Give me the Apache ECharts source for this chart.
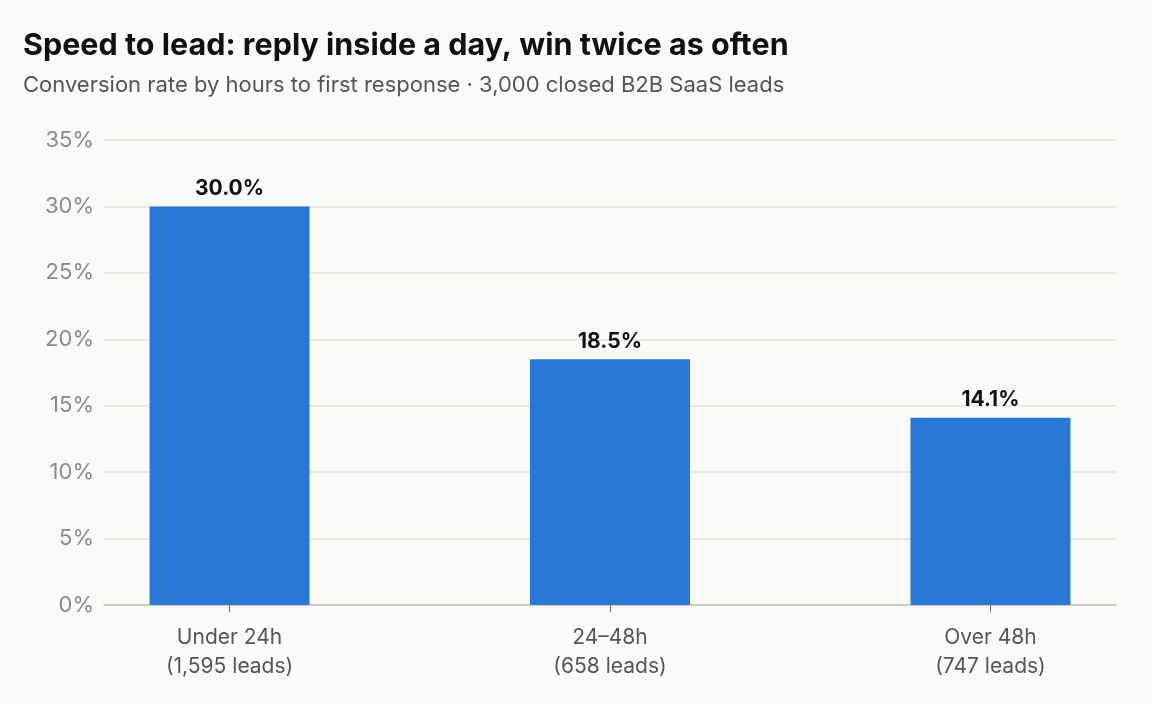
<!DOCTYPE html>
<html>
<head>
<meta charset="utf-8">
<script src="https://cdn.jsdelivr.net/npm/echarts@6/dist/echarts.min.js"></script>
<style>
  html, body { margin: 0; padding: 0; background: #fafaf9; }
  #chart { width: 1152px; height: 704px; }
</style>
</head>
<body>
<div id="chart"></div>
<script>
// data
const categories = ['Under 24h', '24–48h', 'Over 48h']
const leadCounts = ['1,595', '658', '747']
const conversionRates = [30.0, 18.5, 14.1]
const yTicks = [0, 5, 10, 15, 20, 25, 30, 35]

const FONT = 'Inter, "Liberation Sans", Arial, sans-serif'

const chart = echarts.init(document.getElementById('chart'), null, { renderer: 'canvas' })

const positions = categories.map((c, i) => i)

chart.setOption({
  backgroundColor: '#fafaf9',
  textStyle: { fontFamily: FONT },
  title: [
    {
      text: 'Speed to lead: reply inside a day, win twice as often',
      left: 18,
      top: 25,
      textStyle: { fontSize: 30.5, fontWeight: 'bold', color: '#111', fontFamily: FONT }
    },
    {
      text: 'Conversion rate by hours to first response · 3,000 closed B2B SaaS leads',
      left: 18,
      top: 69,
      textStyle: { fontSize: 22, fontWeight: 'normal', color: '#555', fontFamily: FONT }
    }
  ],
  grid: { left: 104, right: 36, top: 140, bottom: 99, containLabel: false },
  xAxis: {
    type: 'value',
    min: -0.33,
    max: 2.33,
    splitLine: { show: false },
    axisLine: { show: true, onZero: false, lineStyle: { color: '#c4c2b8', width: 1.5 } },
    axisTick: { show: true, customValues: positions, length: 7, lineStyle: { color: '#666' } },
    axisLabel: {
      customValues: positions,
      margin: 18,
      lineHeight: 29,
      fontSize: 21,
      color: '#555',
      fontFamily: FONT,
      formatter: v => {
        const i = Math.round(v)
        return categories[i] + '\n(' + leadCounts[i] + ' leads)'
      }
    }
  },
  yAxis: {
    type: 'value',
    min: 0,
    max: 35,
    interval: 5,
    axisLine: { show: false },
    axisTick: { show: false },
    axisLabel: {
      margin: 10,
      fontSize: 22,
      color: '#8a8a8a',
      fontFamily: FONT,
      verticalAlign: 'middle',
      padding: [4, 0, 0, 0],
      formatter: v => yTicks.includes(v) ? v + '%' : ''
    },
    splitLine: { lineStyle: { color: '#e2e0da', width: 1.5 } }
  },
  series: [
    {
      type: 'bar',
      barWidth: 160,
      data: positions.map(i => [i, conversionRates[i]]),
      itemStyle: { color: '#2a78d6' },
      label: {
        show: true,
        position: 'top',
        distance: 7,
        fontSize: 21,
        fontWeight: 'bold',
        color: '#111',
        fontFamily: FONT,
        formatter: p => p.value[1].toFixed(1) + '%'
      },
      silent: true
    }
  ],
  animation: false
})
</script>
</body>
</html>
